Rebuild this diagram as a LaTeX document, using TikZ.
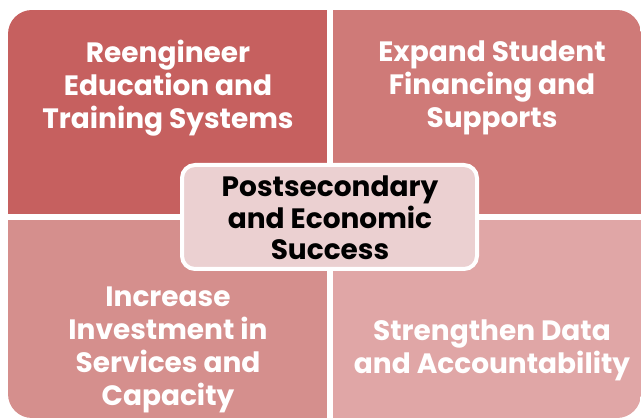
\documentclass[tikz,border=0pt]{standalone}
\usepackage{fontspec}
\setmainfont{Poppins}[UprightFont=* SemiBold, BoldFont=* Bold]
\definecolor{cTL}{HTML}{C6605F}
\definecolor{cTR}{HTML}{CF7A78}
\definecolor{cBL}{HTML}{D58F8D}
\definecolor{cBR}{HTML}{E0A6A6}
\definecolor{cCenter}{HTML}{EBD0D1}
\tikzset{
  quadtext/.style={text=white, align=center, font=\fontsize{28}{33}\selectfont\bfseries, inner sep=0pt},
  centertext/.style={text=black, align=center, font=\fontsize{28}{31.5}\selectfont\bfseries, inner sep=0pt},
  centerbox/.style={fill=cCenter, draw=white, line width=4pt, rounded corners=13pt}
}
\begin{document}
\begin{tikzpicture}[x=1pt,y=-1pt]
\useasboundingbox (0,0) rectangle (642,419);
\begin{scope}
  \clip[rounded corners=24pt] (8,10) rectangle (641,418);
  \fill[cTL] (8,10) rectangle (327,214);
  \fill[cTR] (333,10) rectangle (641,214);
  \fill[cBL] (8,220) rectangle (327,418);
  \fill[cBR] (333,220) rectangle (641,418);
\end{scope}
\node[quadtext] (tl) at (168,88) {Reengineer\\Education and\\Training Systems};
\node[quadtext] (tr) at (492,88) {Expand Student\\Financing and\\Supports};
\node[quadtext] (bl) at (168,350) {Increase\\Investment in\\Services and\\Capacity};
\node[quadtext] (br) at (492,350) {Strengthen Data\\and Accountability};
\path[centerbox] (182,165) rectangle (477,269);
\node[centertext] (c) at (330,218) {Postsecondary\\and Economic\\Success};
\end{tikzpicture}
\end{document}
